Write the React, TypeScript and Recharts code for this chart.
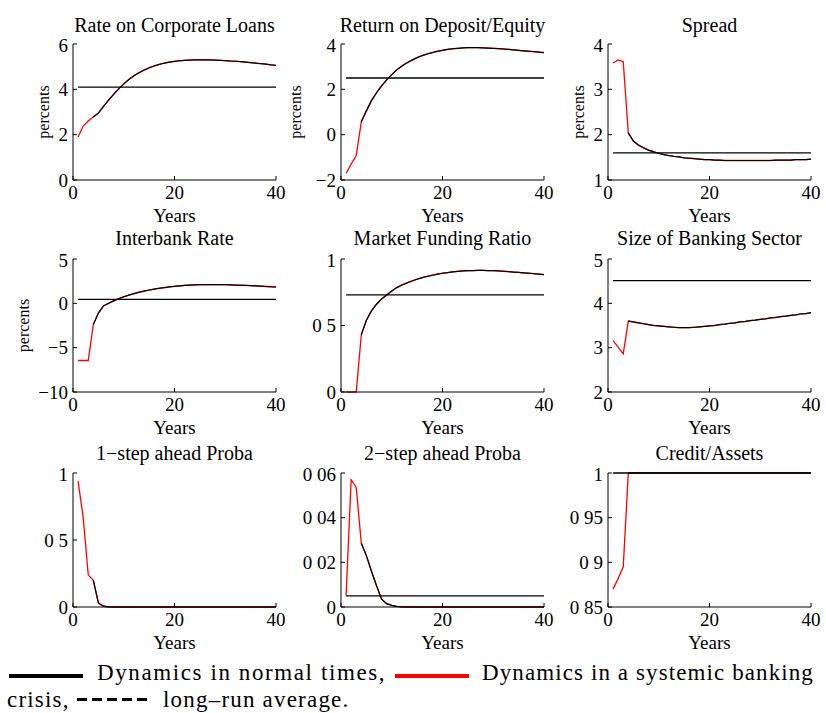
import React from "react"
import { LineChart, Line, XAxis, YAxis, ReferenceLine, Label } from "recharts"

const FONT = '"Liberation Serif", "Times New Roman", serif'

// x axis: years after the shock
const years = [
  1, 2, 3, 4, 5, 6, 7, 8, 9, 10, 11, 12, 13, 14, 15, 16, 17, 18, 19, 20, 21, 22, 23, 24, 25, 26,
  27, 28, 29, 30, 31, 32, 33, 34, 35, 36, 37, 38, 39, 40,
]
// the normal-times path joins the crisis path from this year on
const normalFromYear = 4

const loanRate = [
  1.9, 2.38, 2.6, 2.78, 2.95, 3.25, 3.52, 3.78, 4.02, 4.24, 4.43, 4.6, 4.73, 4.85, 4.95, 5.03,
  5.1, 5.16, 5.2, 5.23, 5.26, 5.28, 5.29, 5.3, 5.3, 5.3, 5.3, 5.29, 5.28, 5.27, 5.25, 5.24, 5.22,
  5.2, 5.18, 5.16, 5.13, 5.11, 5.08, 5.06,
]
const depositReturn = [
  -1.7, -1.3, -0.92, 0.57, 1.05, 1.5, 1.85, 2.15, 2.42, 2.65, 2.86, 3.03, 3.17, 3.29, 3.4, 3.49,
  3.56, 3.62, 3.68, 3.72, 3.76, 3.79, 3.81, 3.83, 3.84, 3.84, 3.84, 3.83, 3.82, 3.81, 3.8, 3.78,
  3.76, 3.74, 3.72, 3.7, 3.68, 3.66, 3.64, 3.62,
]
const spread = [
  3.58, 3.65, 3.61, 2.04, 1.86, 1.77, 1.71, 1.66, 1.62, 1.59, 1.56, 1.54, 1.52, 1.51, 1.49, 1.48,
  1.47, 1.46, 1.45, 1.45, 1.44, 1.44, 1.43, 1.43, 1.43, 1.43, 1.43, 1.43, 1.43, 1.43, 1.43, 1.43,
  1.44, 1.44, 1.44, 1.44, 1.45, 1.45, 1.45, 1.46,
]
const interbankRate = [
  -6.45, -6.45, -6.45, -2.4, -1.1, -0.3, 0.0, 0.28, 0.52, 0.74, 0.93, 1.1, 1.25, 1.38, 1.5, 1.6,
  1.7, 1.78, 1.85, 1.92, 1.97, 2.02, 2.06, 2.09, 2.11, 2.12, 2.12, 2.12, 2.11, 2.1, 2.08, 2.06,
  2.04, 2.02, 1.99, 1.96, 1.93, 1.9, 1.87, 1.84,
]
const marketFunding = [
  0, 0, 0, 0.43, 0.54, 0.61, 0.66, 0.7, 0.73, 0.76, 0.785, 0.805, 0.82, 0.835, 0.848, 0.86, 0.87,
  0.878, 0.886, 0.893, 0.898, 0.903, 0.907, 0.91, 0.912, 0.913, 0.914, 0.914, 0.913, 0.912, 0.91,
  0.908, 0.905, 0.902, 0.899, 0.896, 0.893, 0.89, 0.886, 0.882,
]
const bankingSize = [
  3.16, 3.01, 2.86, 3.6, 3.58, 3.56, 3.54, 3.52, 3.5, 3.49, 3.48, 3.47, 3.46, 3.45, 3.45, 3.45,
  3.46, 3.47, 3.48, 3.49, 3.5, 3.52, 3.53, 3.55, 3.56, 3.58, 3.59, 3.61, 3.62, 3.64, 3.65, 3.67,
  3.68, 3.7, 3.71, 3.73, 3.74, 3.76, 3.77, 3.79,
]
const oneStepProba = [
  0.94, 0.67, 0.24, 0.2, 0.03, 0.006, 0.001, 0, 0, 0, 0, 0, 0, 0, 0, 0, 0, 0, 0, 0, 0, 0, 0, 0, 0,
  0, 0, 0, 0, 0, 0, 0, 0, 0, 0, 0, 0, 0, 0, 0,
]
const twoStepProba = [
  0.005, 0.057, 0.0535, 0.0285, 0.023, 0.016, 0.0095, 0.0035, 0.0015, 0.0007, 0.0003, 0.0001, 0,
  0, 0, 0, 0, 0, 0, 0, 0, 0, 0, 0, 0, 0, 0, 0, 0, 0, 0, 0, 0, 0, 0, 0, 0, 0, 0, 0,
]
const creditAssets = [
  0.87, 0.882, 0.895, 1, 1, 1, 1, 1, 1, 1, 1, 1, 1, 1, 1, 1, 1, 1, 1, 1, 1, 1, 1, 1, 1, 1, 1, 1, 1,
  1, 1, 1, 1, 1, 1, 1, 1, 1, 1, 1,
]

// long-run averages (null = not visible)
const averages = [4.1, 2.5, 1.6, 0.45, 0.73, 4.51, null, 0.005, 1]

const titles = [
  "Rate on Corporate Loans",
  "Return on Deposit/Equity",
  "Spread",
  "Interbank Rate",
  "Market Funding Ratio",
  "Size of Banking Sector",
  "1\u2212step ahead Proba",
  "2\u2212step ahead Proba",
  "Credit/Assets",
]

const yTicks = [
  [0, 2, 4, 6],
  [-2, 0, 2, 4],
  [1, 2, 3, 4],
  [-10, -5, 0, 5],
  [0, 0.5, 1],
  [2, 3, 4, 5],
  [0, 0.5, 1],
  [0, 0.02, 0.04, 0.06],
  [0.85, 0.9, 0.95, 1],
]

const xTicks = [0, 20, 40]

const series = [
  loanRate,
  depositReturn,
  spread,
  interbankRate,
  marketFunding,
  bankingSize,
  oneStepProba,
  twoStepProba,
  creditAssets,
]

// distance of the "percents" label from the plot edge (null = no label)
const percentsGap = [30, 46, 30, 50, null, null, null, null, null]

const colLeft = [73, 341, 608]
const plotWidth = 203
const rowTop = [44, 259, 473]
const rowHeight = [136, 133, 134]
const titleCenter = [25, 238, 453]

const formatTick = (v: number) => {
  if (v < 0) return "\u2212" + String(Math.abs(v))
  return String(v).replace(".", " ")
}

const tickStyle = { fill: "#000", fontSize: 19, fontFamily: FONT }

const noTick = () => <g />

function Panel({ index }: { index: number }) {
  const col = index % 3
  const row = Math.floor(index / 3)
  const left = colLeft[col]
  const top = rowTop[row]
  const plotH = rowHeight[row]
  const values = series[index]
  const ticks = yTicks[index]
  const domain = [ticks[0], ticks[ticks.length - 1]]
  const avg = averages[index]
  const gap = percentsGap[index]

  const data = years.map((year, i) => ({
    year,
    crisis: values[i],
    normal: year >= normalFromYear ? values[i] : null,
  }))

  return (
    <>
      <div
        style={{
          position: "absolute",
          left: left - 20,
          top: titleCenter[row] - 12,
          width: plotWidth + 40,
          textAlign: "center",
          fontFamily: FONT,
          fontSize: 20,
          lineHeight: "24px",
          whiteSpace: "nowrap",
        }}
      >
        {titles[index]}
      </div>
      <div style={{ position: "absolute", left: left - 70, top: top - 10 }}>
        <LineChart
          width={plotWidth + 80}
          height={plotH + 65}
          data={data}
          margin={{ top: 10, right: 10, bottom: 5, left: 10 }}
        >
          <XAxis
            xAxisId="b"
            dataKey="year"
            type="number"
            domain={[0, 40]}
            ticks={xTicks}
            height={50}
            tickSize={-4}
            tickMargin={10}
            tick={tickStyle}
            stroke="#000"
          >
            <Label
              content={(props: any) => {
                const vb = props.viewBox
                return (
                  <text
                    x={vb.x + vb.width / 2}
                    y={vb.y + 42}
                    textAnchor="middle"
                    fontSize={19}
                    fontFamily={FONT}
                    fill="#000"
                  >
                    Years
                  </text>
                )
              }}
            />
          </XAxis>
          <XAxis
            xAxisId="t"
            orientation="top"
            type="number"
            domain={[0, 40]}
            ticks={xTicks}
            height={0}
            tickSize={-4}
            tick={noTick}
            stroke="#000"
          />
          <YAxis
            yAxisId="l"
            type="number"
            domain={domain}
            ticks={ticks}
            width={60}
            tickSize={-4}
            tickMargin={9}
            tick={tickStyle}
            tickFormatter={formatTick}
            stroke="#000"
          >
            {gap != null && (
              <Label
                content={(props: any) => {
                  const vb = props.viewBox
                  const cx = vb.x + vb.width - gap
                  const cy = vb.y + vb.height / 2
                  return (
                    <text
                      x={cx}
                      y={cy}
                      transform={`rotate(-90 ${cx} ${cy})`}
                      textAnchor="middle"
                      dominantBaseline="central"
                      fontSize={16}
                      fontFamily={FONT}
                      fill="#000"
                    >
                      percents
                    </text>
                  )
                }}
              />
            )}
          </YAxis>
          <YAxis
            yAxisId="r"
            orientation="right"
            type="number"
            domain={domain}
            ticks={ticks}
            width={0}
            tickSize={-4}
            tick={noTick}
            stroke="#000"
          />
          <Line
            xAxisId="b"
            yAxisId="l"
            dataKey="crisis"
            stroke="#ff0000"
            strokeWidth={1.3}
            dot={false}
            isAnimationActive={false}
          />
          <Line
            xAxisId="b"
            yAxisId="l"
            dataKey="normal"
            stroke="#000"
            strokeWidth={1.2}
            dot={false}
            connectNulls={false}
            isAnimationActive={false}
          />
          {avg != null && (
            <ReferenceLine
              xAxisId="b"
              yAxisId="l"
              segment={[
                { x: 1, y: avg },
                { x: 40, y: avg },
              ]}
              stroke="#000"
              strokeWidth={1.3}
            />
          )}
        </LineChart>
      </div>
    </>
  )
}

const legendText = {
  position: "absolute" as const,
  fontFamily: FONT,
  fontSize: 23,
  letterSpacing: 1.6,
  lineHeight: "28px",
  whiteSpace: "nowrap" as const,
  color: "#000",
}

export default function App() {
  return (
    <div style={{ position: "relative", width: 826, height: 713, background: "#fff", overflow: "hidden" }}>
      <style>{"body{margin:0}"}</style>
      {titles.map((_, i) => (
        <Panel key={i} index={i} />
      ))}

      <div style={{ position: "absolute", left: 9, top: 674, width: 74, height: 4, background: "#000" }} />
      <div style={{ ...legendText, left: 97, top: 659 }}>Dynamics in normal times,</div>
      <div style={{ position: "absolute", left: 395, top: 674, width: 74, height: 4, background: "#ff0000" }} />
      <div style={{ ...legendText, left: 482, top: 659, letterSpacing: 1.1 }}>Dynamics in a systemic banking</div>

      <div style={{ ...legendText, left: 7, top: 686, letterSpacing: 1.2 }}>crisis,</div>
      <div style={{ position: "absolute", left: 77, top: 698, display: "flex", gap: 5 }}>
        {[0, 1, 2, 3, 4].map((k) => (
          <div key={k} style={{ width: 10, height: 3, background: "#000" }} />
        ))}
      </div>
      <div style={{ ...legendText, left: 163, top: 686, letterSpacing: 1.2 }}>long&ndash;run average.</div>
    </div>
  )
}
